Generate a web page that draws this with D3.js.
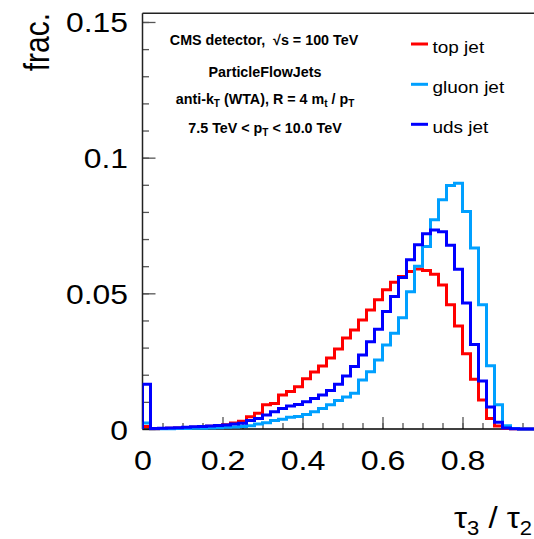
<!DOCTYPE html>
<html>
<head>
<meta charset="utf-8">
<script src="https://cdn.jsdelivr.net/npm/d3@7"></script>
<style>
  html, body { margin: 0; padding: 0; background: #fff; }
  text { font-family: "Liberation Sans", Arial, Helvetica, sans-serif; }
</style>
</head>
<body>
<div id="chart"></div>
<script>
var width = 534;
var height = 539;

// tau3/tau2, 50 bins from 0 to 1
var binEdges = d3.range(0, 51).map(function(i) { return i / 50; });

var topJet = [
	0.0009, 0.0001, 0.0002, 0.0003, 0.0004, 0.0005, 0.0006, 0.0008, 0.0010, 0.0012,
	0.0016, 0.0022, 0.0029, 0.0045, 0.0058, 0.0089, 0.0094, 0.0125, 0.0138, 0.0156,
	0.0185, 0.0210, 0.0232, 0.0262, 0.0295, 0.0335, 0.0365, 0.0402, 0.0439, 0.0476,
	0.0513, 0.0541, 0.0562, 0.0580, 0.0590, 0.0584, 0.0570, 0.0531, 0.0458, 0.0380,
	0.0277, 0.0183, 0.0107, 0.0039, 0.0011, 0.0002, 0.0001, 0, 0, 0
];

var gluonJet = [
	0.0022, 0.0001, 0.0001, 0.0001, 0.0002, 0.0002, 0.0003, 0.0003, 0.0004, 0.0005,
	0.0006, 0.0007, 0.0009, 0.0012, 0.0018, 0.0023, 0.0031, 0.0036, 0.0043, 0.0046,
	0.0053, 0.0064, 0.0076, 0.0089, 0.0105, 0.0118, 0.0132, 0.0181, 0.0211, 0.0254,
	0.0310, 0.0353, 0.0410, 0.0506, 0.0600, 0.0673, 0.0771, 0.0845, 0.0897, 0.0906,
	0.0802, 0.0667, 0.0458, 0.0233, 0.0089, 0.0012, 0.0002, 0, 0, 0
];

var udsJet = [
	0.0165, 0.0002, 0.0003, 0.0004, 0.0005, 0.0006, 0.0008, 0.0009, 0.0011, 0.0013,
	0.0015, 0.0018, 0.0021, 0.0031, 0.0039, 0.0052, 0.0064, 0.0076, 0.0085, 0.0090,
	0.0100, 0.0112, 0.0125, 0.0142, 0.0165, 0.0195, 0.0230, 0.0273, 0.0322, 0.0368,
	0.0433, 0.0488, 0.0558, 0.0624, 0.0679, 0.0720, 0.0733, 0.0727, 0.0677, 0.0589,
	0.0464, 0.0311, 0.0177, 0.0081, 0.0025, 0.0004, 0.0001, 0, 0, 0
];

var seriesNames = ["top jet", "gluon jet", "uds jet"];
var seriesColors = ["#ff0000", "#00a0ff", "#0000ff"];

var xTicks = [0, 0.2, 0.4, 0.6, 0.8];
var yTicks = [0, 0.05, 0.1, 0.15];
var yTickLabels = ["0", "0.05", "0.1", "0.15"];

// frame
var plotLeft = 142.5;
var plotRight = 542.5;
var plotTop = 13.3;
var plotBottom = 429;

var xScale = d3.scaleLinear()
	.domain([0, 1])
	.range([plotLeft, plotRight]);

var yScale = d3.scaleLinear()
	.domain([0, 0.1532])
	.range([plotBottom, plotTop]);

var svg = d3.select("#chart")
	.append("svg")
	.attr("width", width)
	.attr("height", height);

svg.append("clipPath")
	.attr("id", "plotclip")
	.append("rect")
	.attr("x", plotLeft)
	.attr("y", plotTop)
	.attr("width", plotRight - plotLeft)
	.attr("height", plotBottom - plotTop + 4);

// axes -----------------------------------------------------------

var xMinor = d3.range(0, 1.0001, 0.05);
var yMinor = d3.range(0, 0.1532, 0.01);

svg.append("g")
	.attr("transform", "translate(0," + plotBottom + ")")
	.call(d3.axisBottom(xScale).tickValues(xMinor).tickSize(-6).tickFormat(""));

svg.append("g")
	.attr("transform", "translate(" + plotLeft + ",0)")
	.call(d3.axisLeft(yScale).tickValues(yMinor).tickSize(-6.5).tickFormat(""));

var xAxis = svg.append("g")
	.attr("transform", "translate(0," + plotBottom + ")")
	.call(d3.axisBottom(xScale).tickValues(xTicks).tickSize(-12).tickFormat(function(d) { return String(d); }));

var yAxis = svg.append("g")
	.attr("transform", "translate(" + plotLeft + ",0)")
	.call(d3.axisLeft(yScale).tickValues(yTicks).tickSize(-13)
		.tickFormat(function(d, i) { return yTickLabels[i]; }));

svg.selectAll(".domain").remove();
svg.selectAll(".tick line")
	.attr("stroke", "#555")
	.attr("stroke-width", 1.3);

xAxis.selectAll("text")
	.attr("fill", "#000")
	.attr("font-size", 28)
	.attr("y", 41)
	.attr("dy", 0)
	.attr("transform", "scale(1.15,1)");

yAxis.selectAll("text")
	.attr("fill", "#000")
	.attr("font-size", 27)
	.attr("x", -14.5 / 1.18)
	.attr("dy", 10)
	.attr("transform", "scale(1.18,1)");

// frame lines
svg.append("line")
	.attr("x1", plotLeft).attr("y1", plotTop)
	.attr("x2", plotLeft).attr("y2", plotBottom)
	.attr("stroke", "#222").attr("stroke-width", 1.5);
svg.append("line")
	.attr("x1", plotLeft).attr("y1", plotTop)
	.attr("x2", plotRight).attr("y2", plotTop)
	.attr("stroke", "#222").attr("stroke-width", 1.5);
svg.append("line")
	.attr("x1", plotLeft).attr("y1", plotBottom)
	.attr("x2", plotRight).attr("y2", plotBottom)
	.attr("stroke", "#000").attr("stroke-width", 1.5);

// histograms -----------------------------------------------------

var line = d3.line()
	.x(function(d) { return xScale(d[0]); })
	.y(function(d) { return yScale(d[1]); })
	.curve(d3.curveStepAfter);

function histPoints(values) {
	var pts = [[binEdges[0], 0]];
	values.forEach(function(v, i) { pts.push([binEdges[i], v]); });
	pts.push([binEdges[values.length], values[values.length - 1]]);
	pts.push([binEdges[values.length], 0]);
	return pts;
}

var hists = svg.append("g").attr("clip-path", "url(#plotclip)");
[topJet, gluonJet, udsJet].forEach(function(values, i) {
	hists.append("path")
		.attr("d", line(histPoints(values)))
		.attr("fill", "none")
		.attr("stroke", seriesColors[i])
		.attr("stroke-width", 3)
		.attr("stroke-linejoin", "miter");
});

// axis titles ----------------------------------------------------

svg.append("text")
	.attr("transform", "translate(49,13) scale(1.15,1) rotate(-90)")
	.attr("text-anchor", "end")
	.attr("font-size", 30)
	.text("frac.");

var xTitle = svg.append("text")
	.attr("transform", "translate(532,528) scale(1.1,1)")
	.attr("text-anchor", "end")
	.attr("font-size", 30);
xTitle.append("tspan").text("τ");
xTitle.append("tspan").attr("font-size", 20).attr("dy", 7).text("3");
xTitle.append("tspan").attr("dy", -7).text(" / τ");
xTitle.append("tspan").attr("font-size", 20).attr("dy", 7).text("2");

// info text ------------------------------------------------------

var info = svg.append("g")
	.attr("font-weight", "bold")
	.attr("font-size", 14.3)
	.attr("text-anchor", "middle");

info.append("text").attr("x", 264).attr("y", 45).text("CMS detector,\u00a0 √s = 100 TeV");
info.append("text").attr("x", 265).attr("y", 76.5).text("ParticleFlowJets");

var t3 = info.append("text").attr("x", 265).attr("y", 103.5);
t3.append("tspan").text("anti-k");
t3.append("tspan").attr("font-size", 10).attr("dy", 3).text("T");
t3.append("tspan").attr("dy", -3).text(" (WTA), R = 4 m");
t3.append("tspan").attr("font-size", 10).attr("dy", 3).text("t");
t3.append("tspan").attr("dy", -3).text(" / p");
t3.append("tspan").attr("font-size", 10).attr("dy", 3).text("T");

var t4 = info.append("text").attr("x", 265).attr("y", 133.3);
t4.append("tspan").text("7.5 TeV < p");
t4.append("tspan").attr("font-size", 10).attr("dy", 3).text("T");
t4.append("tspan").attr("dy", -3).text(" < 10.0 TeV");

// legend ---------------------------------------------------------

var legendY = [44, 84.3, 124.3];
var legend = svg.append("g");
seriesNames.forEach(function(name, i) {
	legend.append("line")
		.attr("x1", 411).attr("x2", 428)
		.attr("y1", legendY[i]).attr("y2", legendY[i])
		.attr("stroke", seriesColors[i])
		.attr("stroke-width", 3);
	legend.append("text")
		.attr("transform", "translate(432.5," + (legendY[i] + 9) + ") scale(1.15,1)")
		.attr("font-size", 16.5)
		.text(name);
});
</script>
</body>
</html>
